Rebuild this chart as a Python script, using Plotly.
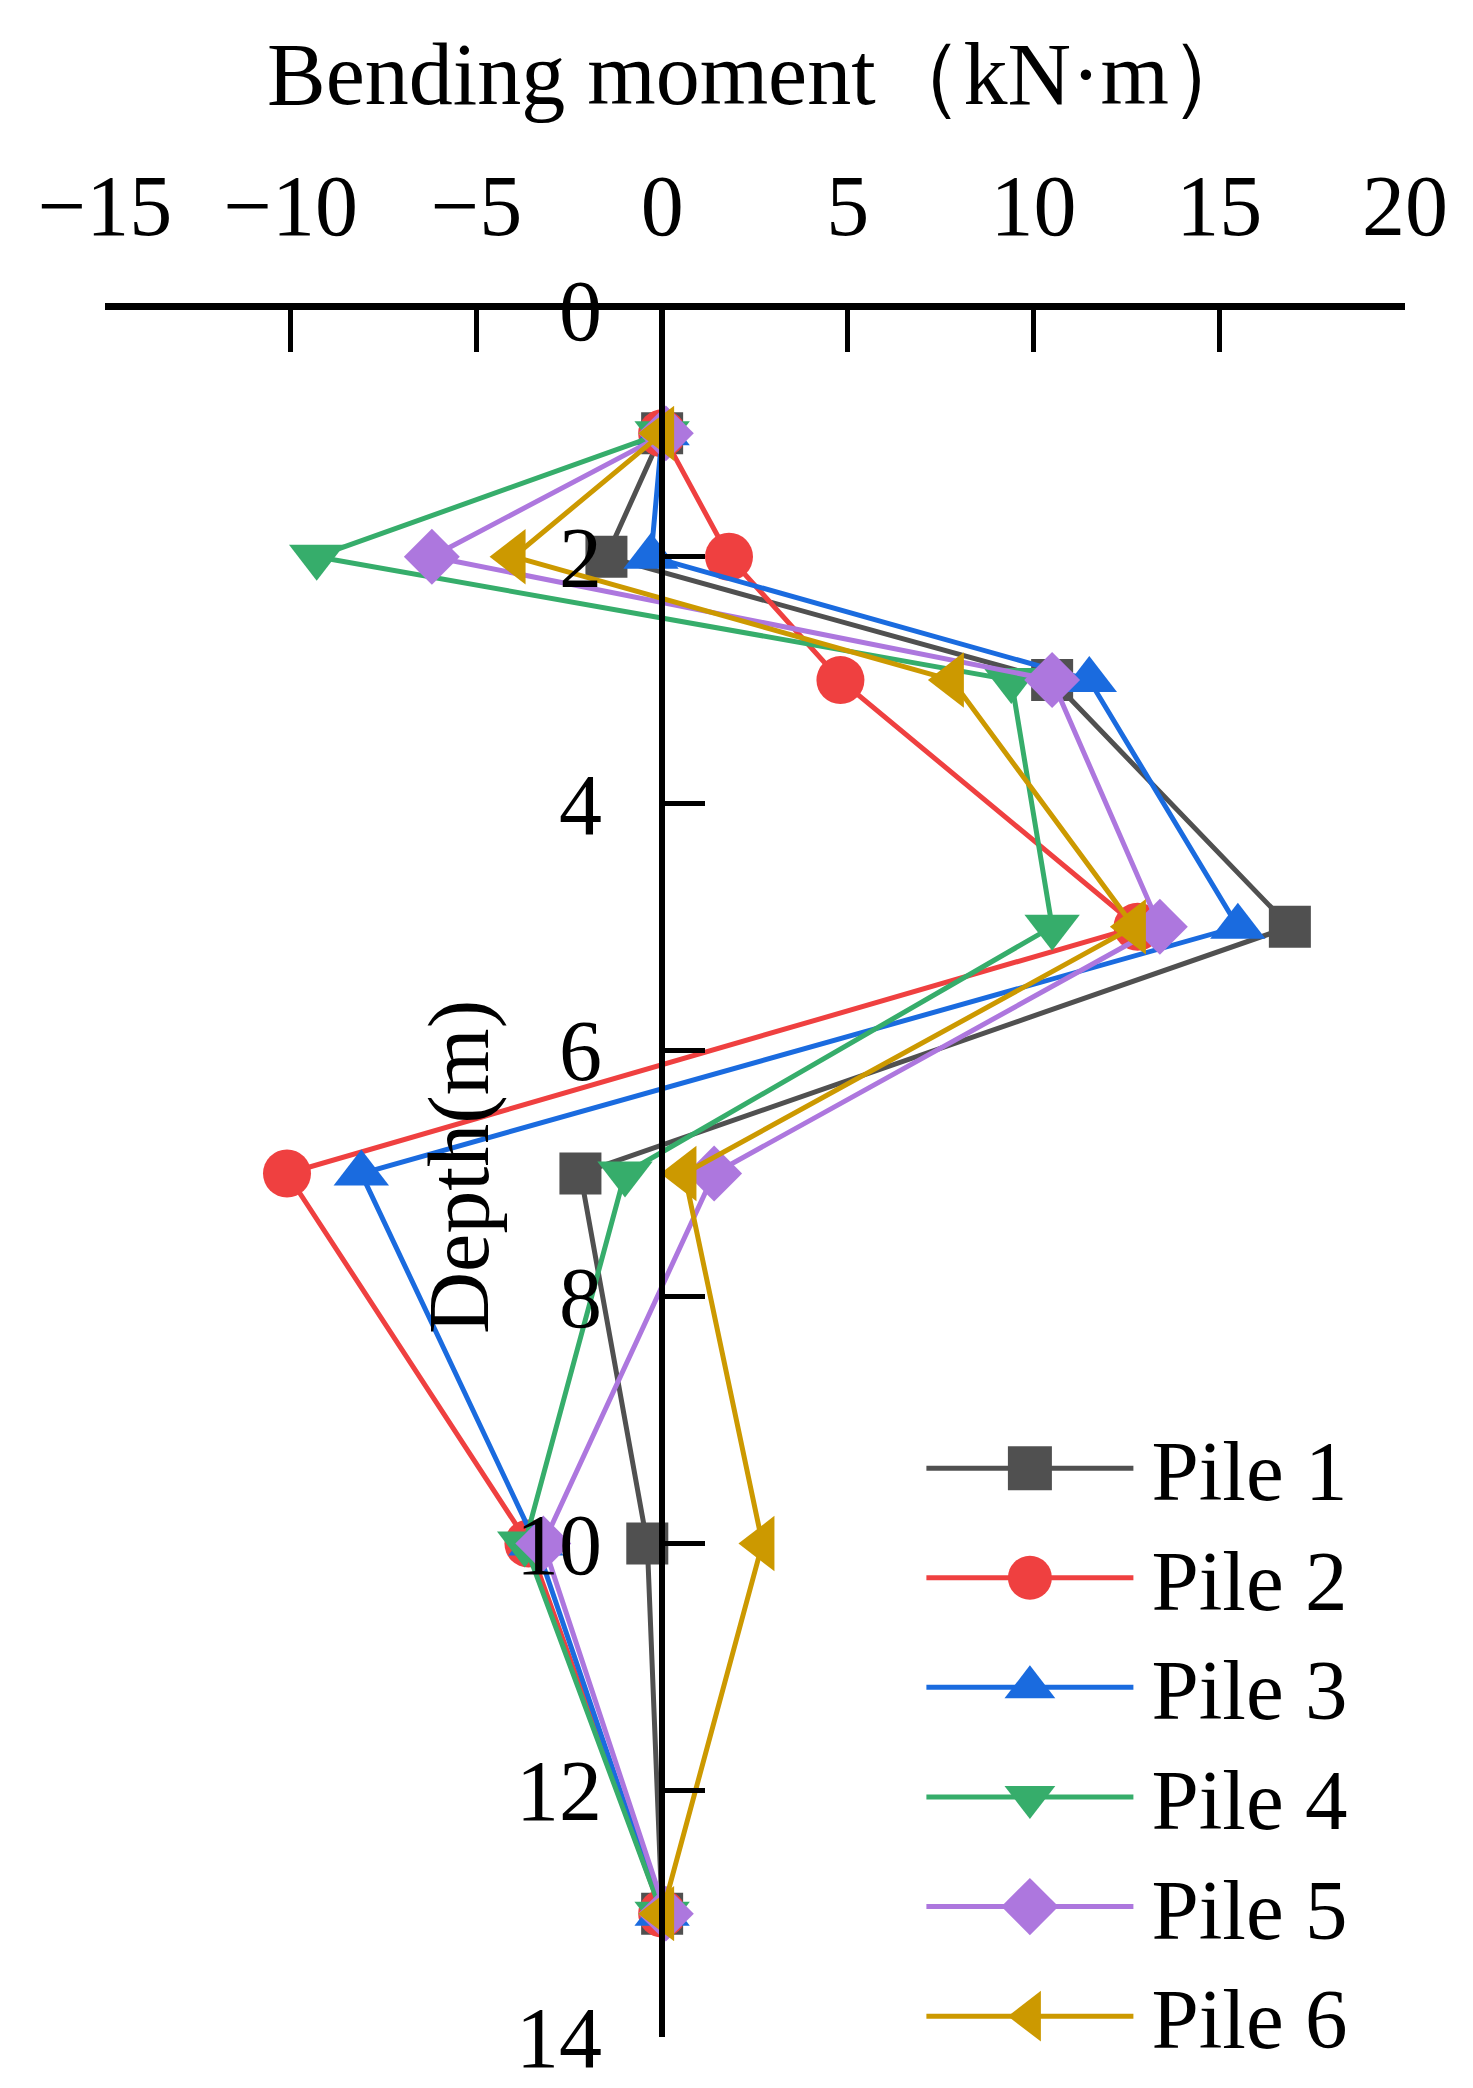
import plotly.graph_objects as go

# depth of measuring points (m)
depth = [1, 2, 3, 5, 7, 10, 13]

# bending moment (kN·m) per pile
pile1 = [0.0, -1.5, 10.5, 16.9, -2.2, -0.4, 0.0]
pile2 = [0.0, 1.8, 4.8, 12.8, -10.1, -3.6, 0.0]
pile3 = [0.0, -0.3, 11.5, 15.5, -8.1, -3.4, 0.0]
pile4 = [0.0, -9.3, 9.4, 10.5, -1.0, -3.7, 0.0]
pile5 = [0.1, -6.2, 10.5, 13.4, 1.4, -3.2, 0.1]
pile6 = [0.0, -4.0, 7.8, 12.7, 0.6, 2.7, 0.0]

names = ["Pile 1", "Pile 2", "Pile 3", "Pile 4", "Pile 5", "Pile 6"]
colors = ["#505050", "#EF4040", "#1A6BDF", "#36AD6B", "#AD77DE", "#CC9900"]
symbols = ["square", "circle", "triangle-up", "triangle-down", "diamond", "triangle-left"]
sizes = [42, 48, 48, 48, 43, 48]

x_ticks = [-15, -10, -5, 0, 5, 10, 15, 20]
y_ticks = [0, 2, 4, 6, 8, 10, 12, 14]

FONT = "Liberation Serif"

fig = go.Figure()
for name, vals, c, s, sz in zip(names, [pile1, pile2, pile3, pile4, pile5, pile6],
                                colors, symbols, sizes):
    fig.add_trace(go.Scatter(x=vals, y=depth, name=name, mode="lines+markers",
                             line=dict(color=c, width=5),
                             marker=dict(symbol=s, size=sz, color=c)))

fig.update_layout(
    width=1473, height=2088,
    margin=dict(l=105, r=68, t=310, b=51, autoexpand=False),
    plot_bgcolor="white", paper_bgcolor="white",
    font=dict(family=FONT, size=86, color="black"),
    showlegend=True,
    legend=dict(x=0.628, y=0.364, xanchor="left", yanchor="top",
                bgcolor="rgba(0,0,0,0)", font=dict(size=82),
                itemwidth=207, tracegroupgap=0),
    xaxis=dict(range=[-15, 20], side="top", showline=True, linecolor="black",
               linewidth=7, ticks="inside", ticklen=42, tickwidth=5,
               tickcolor="black", tickvals=x_ticks,
               ticktext=[str(v).replace("-", "\u2212") for v in x_ticks],
               showgrid=False, zeroline=False, ticklabelstandoff=34),
    yaxis=dict(range=[14, 0], anchor="free", position=15 / 35, showline=True,
               linecolor="black", linewidth=6, ticks="inside", ticklen=40,
               tickwidth=5, tickcolor="black", tickvals=y_ticks,
               showgrid=False, zeroline=False, ticklabelstandoff=40),
)

fig.add_annotation(text="Bending moment\uff08kN\u00b7m\uff09", xref="paper", yref="paper",
                   x=0.505, y=1.1365, showarrow=False, xanchor="center", yanchor="middle",
                   font=dict(size=88))
fig.add_annotation(text="Depth(m)", xref="x", yref="y", x=-5.45, y=6.95, textangle=-90,
                   showarrow=False, font=dict(size=86))

# drop the default page margin; enlarge legend symbols (plotly caps them at 16px)
# and nudge the legend texts a little further from their lines
page_fix = """
document.body.style.margin = '0';
function growLegend(){
  document.querySelectorAll('.legend .scrollbox').forEach(function(s){
    s.removeAttribute('clip-path');
  });
  document.querySelectorAll('.legendpoints path.scatterpts').forEach(function(p){
    var t = (p.getAttribute('transform') || '').replace(/scale\\([^)]*\\)/g, '');
    p.setAttribute('transform', t + ' scale(2.75)');
  });
  document.querySelectorAll('.legend text.legendtext').forEach(function(t){
    if (!t.dataset.x0) { t.dataset.x0 = t.getAttribute('x'); }
    t.setAttribute('x', parseFloat(t.dataset.x0) + 13);
    t.style.fontSize = '85px';
  });
}
growLegend();
document.getElementById('{plot_id}').on('plotly_afterplot', growLegend);
"""

fig.write_html("out.html", post_script=page_fix, config={"displayModeBar": False})
